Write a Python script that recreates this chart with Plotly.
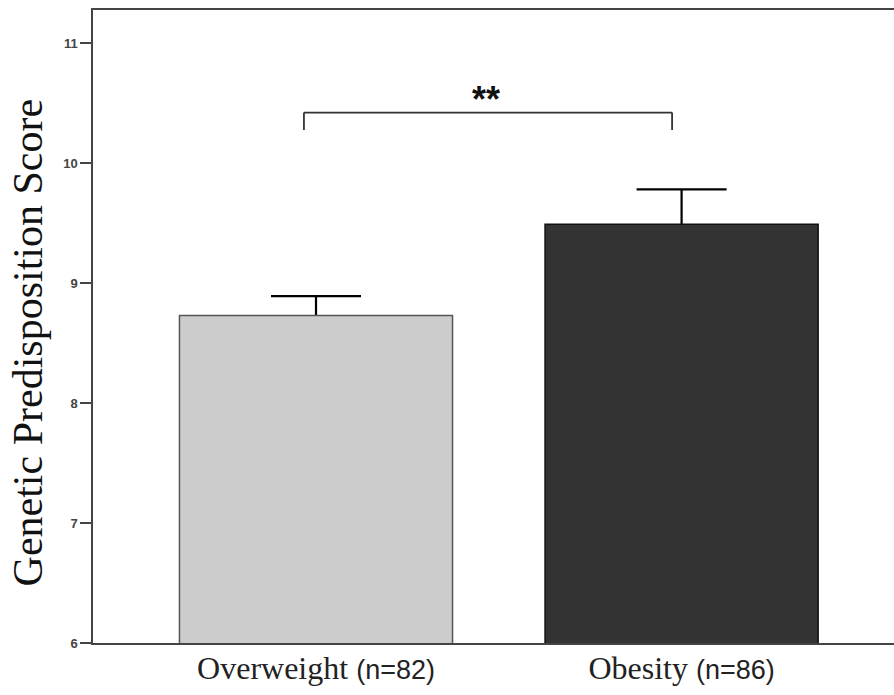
import plotly.graph_objects as go

# Group means and standard errors of the genetic predisposition score
groups = ["Overweight", "Obesity"]
group_n = [82, 86]
mean_score = [8.73, 9.49]
sem_score = [0.16, 0.29]
bar_colors = ["#cccccc", "#333333"]
bar_edges = ["#555555", "#111111"]

y_ticks = [6, 7, 8, 9, 10, 11]
y_tick_labels = ["6", "7", "8", "9", "10", "11"]

x_pos = list(range(len(groups)))
tick_text = [
    f"{g} <span style='font-family:Liberation Sans, Arial; font-size:27px'>(n={n})</span>"
    for g, n in zip(groups, group_n)
]

fig = go.Figure()
# error bars drawn first so the lower half is hidden behind the bars
fig.add_trace(go.Bar(
    x=x_pos, y=mean_score, width=0.747,
    marker=dict(color="rgba(0,0,0,0)", line=dict(width=0)),
    error_y=dict(type="data", array=sem_score, color="#000000", thickness=2.2, width=45),
    showlegend=False, hoverinfo="skip",
))
fig.add_trace(go.Bar(
    x=x_pos, y=mean_score, width=0.747,
    marker=dict(color=bar_colors, line=dict(color=bar_edges, width=1.5)),
    showlegend=False,
))

# significance bracket between the two groups
br_left, br_right, br_y, br_drop = -0.033, 0.974, 10.42, 0.145
fig.add_shape(type="line", xref="x", yref="y", x0=br_left, x1=br_right, y0=br_y, y1=br_y,
              line=dict(color="#333333", width=1.8))
for bx in (br_left, br_right):
    fig.add_shape(type="line", xref="x", yref="y", x0=bx, x1=bx, y0=br_y, y1=br_y - br_drop,
                  line=dict(color="#333333", width=1.8))
fig.add_annotation(x=0.465, y=10.575, xref="x", yref="y", text="<b>**</b>", showarrow=False,
                   yanchor="middle", yshift=-5,
                   font=dict(family="Liberation Sans, Arial", size=36, color="#111111"))

# y-axis title
fig.add_annotation(x=-0.081, y=0.475, xref="paper", yref="paper", xanchor="center",
                   yanchor="middle", textangle=-90, showarrow=False,
                   text="Genetic Predisposition Score",
                   font=dict(family="Liberation Serif, Times New Roman", size=42, color="#111111"))

fig.update_layout(
    width=894, height=695,
    margin=dict(l=93, r=0, t=10, b=52),
    plot_bgcolor="white", paper_bgcolor="white",
    barmode="overlay",
    xaxis=dict(
        range=[-0.610, 1.581],
        tickmode="array", tickvals=x_pos, ticktext=tick_text,
        tickfont=dict(family="Liberation Serif, Times New Roman", size=32, color="#222222"),
        ticklabelstandoff=-4,
        showline=True, linecolor="#444444", linewidth=1.5, mirror=True,
        ticks="", showgrid=False, zeroline=False,
    ),
    yaxis=dict(
        range=[6, 11.275],
        tickmode="array", tickvals=y_ticks, ticktext=y_tick_labels,
        tickfont=dict(family="Liberation Sans, Arial", size=13, color="#444444", weight="bold"),
        ticks="outside", ticklen=11, tickwidth=1.5, tickcolor="#444444",
        showline=True, linecolor="#444444", linewidth=1.5,
        showgrid=False, zeroline=False,
    ),
)

fig.write_html("out.html")
